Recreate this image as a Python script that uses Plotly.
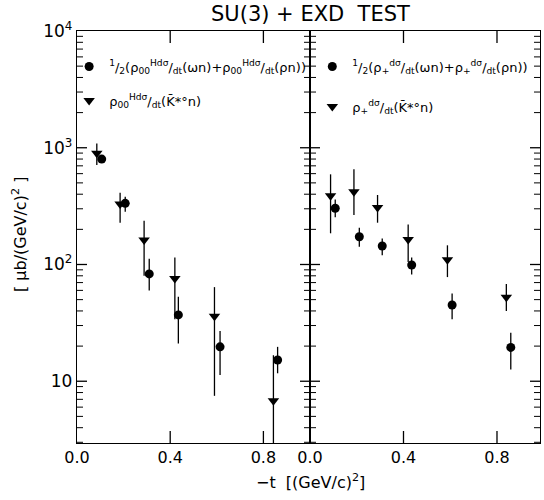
import math
import plotly.graph_objects as go

# ---------------- data ----------------
# Left panel: rho_00^H weighted cross sections
left_circ_t = [0.106, 0.207, 0.310, 0.435, 0.614, 0.861]
left_circ_y = [800, 334, 83, 37, 19.7, 15.2]
left_circ_up = [830, 380, 112, 53, 27, 19.7]
left_circ_lo = [770, 283, 60, 21, 11.3, 11.7]

left_tri_t = [0.085, 0.185, 0.288, 0.420, 0.590, 0.843]
left_tri_y = [895, 330, 162, 76, 36, 6.8]
left_tri_up = [1090, 411, 237, 115, 64, 16.7]
left_tri_lo = [710, 228, 80, 34, 7.5, 2.5]

# Right panel: rho_+ weighted cross sections
right_circ_t = [0.108, 0.211, 0.309, 0.435, 0.608, 0.859]
right_circ_y = [303, 173, 144, 99, 45, 19.5]
right_circ_up = [361, 206, 167, 115, 56.5, 26]
right_circ_lo = [254, 142, 120, 82, 34, 12.6]

right_tri_t = [0.088, 0.188, 0.289, 0.420, 0.588, 0.840]
right_tri_y = [388, 420, 308, 164, 110, 52.5]
right_tri_up = [592, 653, 394, 220, 146, 68]
right_tri_lo = [185, 265, 228, 105, 78, 40]

x_tickvals = [0.0, 0.4, 0.8]
x_ticktext = ["0.0", "0.4", "0.8"]
y_tickvals = [10, 100, 1000, 10000]
y_ticktext = ["10", "10<sup>2</sup>", "10<sup>3</sup>", "10<sup>4</sup>"]
y_minor_vals = [m * 10 ** d for d in range(0, 4) for m in range(2, 10)]

DSDT = "<sup>dσ</sup>/<sub>dt</sub>"
leg_left_circ = ("<sup>1</sup>/<sub>2</sub>(ρ<sub>00</sub><sup>H</sup>" + DSDT + "(ωn)+ρ<sub>00</sub><sup>H</sup>"
                 + DSDT + "(ρn))")
leg_left_tri = "ρ<sub>00</sub><sup>H</sup>" + DSDT + "(K̄*°n)"
leg_right_circ = "<sup>1</sup>/<sub>2</sub>(ρ<sub>+</sub>" + DSDT + "(ωn)+ρ<sub>+</sub>" + DSDT + "(ρn))"
leg_right_tri = "ρ<sub>+</sub>" + DSDT + "(K̄*°n)"

FONT = "DejaVu Sans"


def err(y, up, lo):
    return dict(type="data", symmetric=False,
                array=[u - v for u, v in zip(up, y)],
                arrayminus=[v - l for v, l in zip(y, lo)],
                color="black", thickness=1.3, width=0)


fig = go.Figure()

fig.add_trace(go.Scatter(x=left_circ_t, y=left_circ_y, mode="markers",
                         marker=dict(symbol="circle", size=9, color="black"),
                         error_y=err(left_circ_y, left_circ_up, left_circ_lo),
                         name=leg_left_circ, legend="legend", legendgroup="a",
                         xaxis="x", yaxis="y"))
fig.add_trace(go.Scatter(x=left_tri_t, y=left_tri_y, mode="markers",
                         marker=dict(symbol="triangle-down", size=10, color="black"),
                         error_y=err(left_tri_y, left_tri_up, left_tri_lo),
                         name=leg_left_tri, legend="legend", legendgroup="b",
                         xaxis="x", yaxis="y"))
fig.add_trace(go.Scatter(x=right_circ_t, y=right_circ_y, mode="markers",
                         marker=dict(symbol="circle", size=9, color="black"),
                         error_y=err(right_circ_y, right_circ_up, right_circ_lo),
                         name=leg_right_circ, legend="legend2", legendgroup="c",
                         xaxis="x2", yaxis="y2"))
fig.add_trace(go.Scatter(x=right_tri_t, y=right_tri_y, mode="markers",
                         marker=dict(symbol="triangle-down", size=10, color="black"),
                         error_y=err(right_tri_y, right_tri_up, right_tri_lo),
                         name=leg_right_tri, legend="legend2", legendgroup="d",
                         xaxis="x2", yaxis="y2"))

split = 233 / 463
XL_RANGE = [0, 1.0]
XR_RANGE = [0, 0.984]
Y_RANGE = [0.471, 4.0]
PLOT_W_L, PLOT_W_R, PLOT_H = 233, 230, 412

xmain = dict(tickmode="array", tickvals=x_tickvals, ticktext=x_ticktext, ticks="",
             showline=True, linecolor="black", linewidth=1.3, mirror=True,
             showgrid=False, zeroline=False,
             tickfont=dict(family=FONT, size=16, color="black"))
ymain = dict(type="log", range=Y_RANGE, tickmode="array", tickvals=y_tickvals,
             ticktext=y_ticktext, ticks="", showline=True, linecolor="black",
             linewidth=1.3, mirror=True, showgrid=False, zeroline=False)

# ---- inward tick marks (short segments placed at the axes' tick values) ----
shapes = []


def in_range(v):
    return Y_RANGE[0] < math.log10(v) < Y_RANGE[1]


for vals, length, width in [(y_tickvals, 10, 1.3), (y_minor_vals, 6, 1.0)]:
    for v in vals:
        if not in_range(v):
            continue
        for xr, yr, start, sign, w in [("x domain", "y", 0, 1, PLOT_W_L),
                                        ("x domain", "y", 1, -1, PLOT_W_L),
                                        ("x2 domain", "y2", 0, 1, PLOT_W_R),
                                        ("x2 domain", "y2", 1, -1, PLOT_W_R)]:
            shapes.append(dict(type="line", layer="above", xref=xr, yref=yr,
                               x0=start, x1=start + sign * length / w, y0=v, y1=v,
                               line=dict(color="black", width=width)))

# x ticks: thin filled rectangles at the x tick values (bottom and top edges)
span = Y_RANGE[1] - Y_RANGE[0]
x_tick_len = 12 / PLOT_H * span
y_bottom = (10 ** Y_RANGE[0], 10 ** (Y_RANGE[0] + x_tick_len))
y_top = (10 ** (Y_RANGE[1] - x_tick_len), 10 ** Y_RANGE[1])
for xr, yr, rng, w in [("x domain", "y", XL_RANGE, PLOT_W_L),
                       ("x2 domain", "y2", XR_RANGE, PLOT_W_R)]:
    half = 0.65 / w
    for v in x_tickvals[1:]:
        f = (v - rng[0]) / (rng[1] - rng[0])
        for y0, y1 in [y_bottom, y_top]:
            shapes.append(dict(type="rect", layer="above", xref=xr, yref=yr,
                               x0=f - half, x1=f + half, y0=y0, y1=y1,
                               fillcolor="black", line=dict(width=0)))

fig.update_layout(
    width=544, height=500,
    margin=dict(l=77, r=4, t=31, b=57, autoexpand=False),
    paper_bgcolor="white", plot_bgcolor="white",
    font=dict(family=FONT, color="black"),
    xaxis=dict(domain=[0, split], range=XL_RANGE, anchor="y", **xmain),
    xaxis2=dict(domain=[split, 1], range=XR_RANGE, anchor="y2", **xmain),
    yaxis=dict(anchor="x", tickfont=dict(family=FONT, size=17, color="black"), **ymain),
    yaxis2=dict(anchor="x2", showticklabels=False, **ymain),
    shapes=shapes,
    showlegend=True,
    legend=dict(x=-0.017, y=0.95, xanchor="left", yanchor="top",
                bgcolor="rgba(0,0,0,0)", font=dict(family=FONT, size=13, color="black"),
                tracegroupgap=14, itemwidth=30),
    legend2=dict(x=split + 0.005, y=0.95, xanchor="left", yanchor="top",
                 bgcolor="rgba(0,0,0,0)", font=dict(family=FONT, size=13, color="black"),
                 tracegroupgap=20, itemwidth=30),
    annotations=[
        dict(text="SU(3) + EXD  TEST", xref="paper", yref="paper",
             x=(310 - 77) / 463, y=(443 - 14) / 412, xanchor="center", yanchor="middle",
             showarrow=False, font=dict(family=FONT, size=21, color="black")),
        dict(text="−t  [(GeV/c)<sup>2</sup>]", xref="paper", yref="paper",
             x=(310 - 77) / 463, y=(443 - 481) / 412, xanchor="center", yanchor="middle",
             showarrow=False, font=dict(family=FONT, size=16, color="black")),
        dict(text="[ μb/(GeV/c)<sup>2</sup> ]", xref="paper", yref="paper",
             x=(19 - 77) / 463, y=(443 - 235) / 412, xanchor="center", yanchor="middle",
             textangle=-90, showarrow=False,
             font=dict(family=FONT, size=16, color="black")),
    ],
)

fig.write_html("out.html")
